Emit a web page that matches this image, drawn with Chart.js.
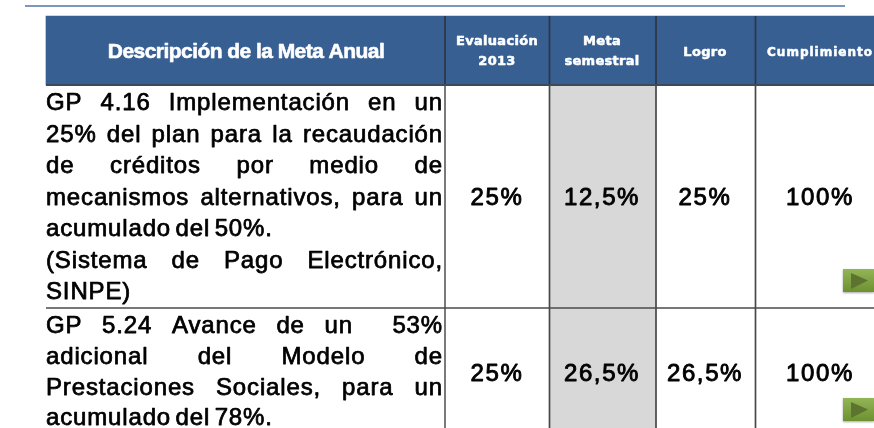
<!DOCTYPE html>
<html lang="es"><head><meta charset="utf-8">
<style>html,body{margin:0;padding:0;background:#fff}canvas{display:block;filter:blur(.4px)}</style>
<script src="https://cdn.jsdelivr.net/npm/chart.js@4"></script></head>
<body><canvas id="c" width="874" height="428"></canvas>
<script>
// ---- table content ----
const headerTitle = 'Descripción de la Meta Anual';
const columnHeaders = [['Evaluación','2013'],['Meta','semestral'],['Logro'],['Cumplimiento']];
const goalLines = [
  ['GP 4.16 Implementación en un','25% del plan para la recaudación','de créditos por medio de','mecanismos alternativos, para un','acumulado del 50%.','(Sistema de Pago Electrónico,','SINPE)'],
  ['GP 5.24 Avance de un  53%','adicional del Modelo de','Prestaciones Sociales, para un','acumulado del 78%.']
];
const evaluacion2013 = [25, 25];
const metaSemestral = [12.5, 26.5];
const logro = [25, 26.5];
const cumplimiento = [100, 100];

// ---- layout (table geometry, in scale units) ----
const colEdges = [46, 445, 549.5, 656, 755.5, 874];
const rowEdges = [16, 85, 308, 428];
const lastLines = new Set(['acumulado del 50%.','SINPE)','acumulado del 78%.']);
const rowBaselines = [[110,141.5,173,204.5,236,268,299],[333,364,395,425]];
const valueBaselines = [205, 381];
const arrowTops = [269, 398];
const fmt = v => String(v).replace('.', ',') + '%';

const tablePlugin = {
  id: 'table',
  afterDatasetsDraw(chart) {
    const ctx = chart.ctx, X = v => chart.scales.x.getPixelForValue(v), Y = v => chart.scales.y.getPixelForValue(v);
    const put = (t, x, y) => { ctx.fillText(t, x, y); ctx.strokeText(t, x, y); };
    ctx.save();
    ctx.lineJoin = 'round';
    // top rule
    ctx.strokeStyle = '#4f74a8'; ctx.lineWidth = 1.6;
    ctx.beginPath(); ctx.moveTo(X(25), Y(6)); ctx.lineTo(X(845), Y(6)); ctx.stroke();
    // grid
    ctx.lineWidth = 1.7;
    colEdges.slice(1, 5).forEach((e, i) => {
      ctx.strokeStyle = '#2f3640';
      ctx.beginPath(); ctx.moveTo(X(e), Y(16)); ctx.lineTo(X(e), Y(85)); ctx.stroke();
      ctx.strokeStyle = i === 0 ? '#626262' : '#484848';
      ctx.beginPath(); ctx.moveTo(X(e), Y(85)); ctx.lineTo(X(e), Y(428)); ctx.stroke();
    });
    ctx.strokeStyle = '#3d4a5c'; ctx.lineWidth = 2;
    ctx.beginPath(); ctx.moveTo(X(46), Y(85)); ctx.lineTo(X(874), Y(85)); ctx.stroke();
    ctx.strokeStyle = '#4a4a4a'; ctx.lineWidth = 1.7;
    ctx.beginPath(); ctx.moveTo(X(46), Y(308)); ctx.lineTo(X(874), Y(308)); ctx.stroke();

    // headers
    ctx.fillStyle = '#fff'; ctx.strokeStyle = '#fff'; ctx.textAlign = 'center'; ctx.textBaseline = 'alphabetic';
    ctx.lineWidth = 0.6;
    ctx.font = 'bold 21px "Liberation Sans"'; ctx.letterSpacing = '-0.55px';
    put(headerTitle, X(246), Y(58));
    ctx.lineWidth = 0.55;
    ctx.font = 'bold 13px "DejaVu Sans"'; ctx.letterSpacing = '0.3px';
    const hx = [497, 602, 705, 820];
    columnHeaders.forEach((lines, i) => {
      if (lines.length === 2) {
        put(lines[0], X(hx[i]), Y(45));
        put(lines[1], X(hx[i]), Y(65));
      } else {
        if (i === 3) { ctx.font = 'bold 12px "DejaVu Sans"'; ctx.letterSpacing = '1px'; }
        put(lines[0], X(hx[i]), Y(56));
      }
    });

    // description text (justified)
    ctx.fillStyle = '#000'; ctx.strokeStyle = '#000'; ctx.textAlign = 'left';
    ctx.lineWidth = 0.75;
    ctx.font = '24px "Liberation Sans"'; ctx.letterSpacing = '0.85px';
    goalLines.forEach((lines, r) => lines.forEach((line, l) => {
      const y = Y(rowBaselines[r][l]);
      if (lastLines.has(line)) {
        ctx.wordSpacing = '-3px'; put(line, X(46), y); ctx.wordSpacing = '0px'; return;
      }
      const words = line.split(' ');
      const w = words.reduce((a, t) => a + ctx.measureText(t).width, 0);
      const gap = (X(443) - X(46) - w) / (words.length - 1);
      let x = X(46);
      words.forEach(t => { put(t, x, y); x += ctx.measureText(t).width + gap; });
    }));

    // value cells
    ctx.lineWidth = 0.9;
    ctx.textAlign = 'center'; ctx.font = '24px "Liberation Sans"'; ctx.letterSpacing = '1.6px';
    [evaluacion2013, metaSemestral, logro, cumplimiento].forEach((vals, c) => vals.forEach((v, r) => {
      put(fmt(v), X(hx[c]), Y(valueBaselines[r]));
    }));

    // green arrow buttons
    arrowTops.forEach(t => {
      const g = ctx.createLinearGradient(0, Y(t), 0, Y(t + 23));
      g.addColorStop(0, '#93b556'); g.addColorStop(1, '#6d9030');
      ctx.shadowColor = 'rgba(0,0,0,.35)'; ctx.shadowBlur = 2; ctx.shadowOffsetY = 1;
      ctx.fillStyle = g; ctx.fillRect(X(843), Y(t), X(874) - X(843), Y(t + 23) - Y(t));
      ctx.shadowColor = 'transparent';
      ctx.fillStyle = '#5d7330';
      ctx.beginPath(); ctx.moveTo(X(851), Y(t + 4)); ctx.lineTo(X(868), Y(t + 11.5)); ctx.lineTo(X(851), Y(t + 20)); ctx.closePath(); ctx.fill();
    });
    ctx.restore();
  }
};

new Chart(document.getElementById('c'), {
  type: 'bar',
  data: { datasets: [
    { label: 'Encabezado', data: [{ x: (colEdges[0] + colEdges[5]) / 2, y: [rowEdges[0], rowEdges[1]] }],
      backgroundColor: '#375f92', barThickness: colEdges[5] - colEdges[0], grouped: false },
    { label: 'Meta semestral', data: [{ x: (colEdges[2] + colEdges[3]) / 2, y: [rowEdges[1], rowEdges[3]] }],
      backgroundColor: '#d8d8d8', barThickness: colEdges[3] - colEdges[2], grouped: false }
  ] },
  options: {
    responsive: false, animation: false, events: [],
    layout: { padding: 0 },
    plugins: { legend: { display: false }, tooltip: { enabled: false }, title: { display: false } },
    scales: {
      x: { type: 'linear', min: 0, max: 874, display: false, offset: false },
      y: { type: 'linear', min: 0, max: 428, reverse: true, display: false }
    }
  },
  plugins: [tablePlugin]
});
</script></body></html>
